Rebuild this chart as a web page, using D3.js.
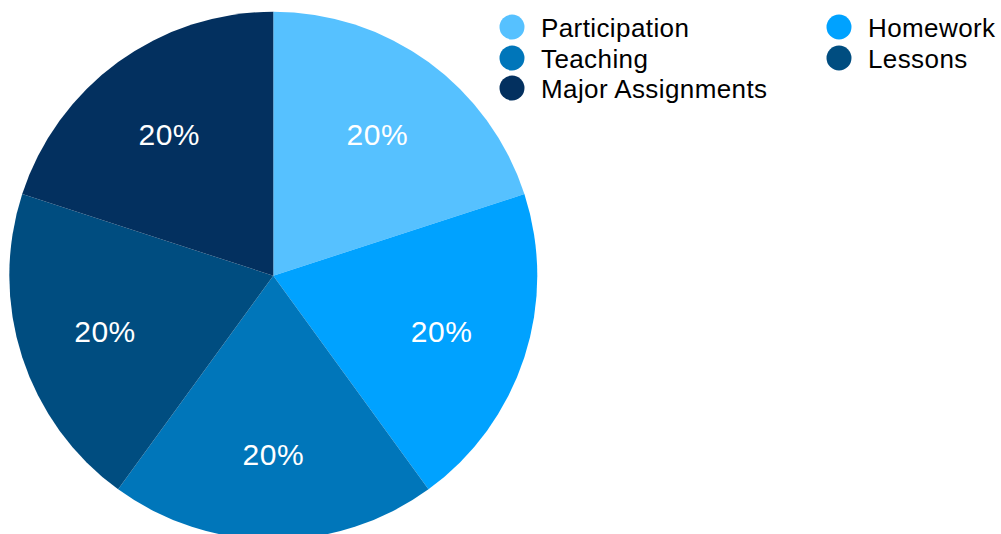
<!DOCTYPE html>
<html><head><meta charset="utf-8">
<script src="https://cdn.jsdelivr.net/npm/d3@7"></script>
<style>body{margin:0;background:#fff;}svg{display:block;}</style>
</head><body>
<svg id="chart" width="1001" height="534"></svg>
<script>
const categories = ["Participation","Homework","Teaching","Lessons","Major Assignments"];
const values = [20,20,20,20,20];
const colors = ["#56c1ff","#00a2ff","#0076ba","#004d80","#03305f"];
const legendOrder = ["Participation","Homework","Teaching","Lessons","Major Assignments"];

const svg = d3.select("#chart");
const cx = 273.3, cy = 275.7, r = 264;
const color = d3.scaleOrdinal().domain(categories).range(colors);
const data = categories.map((c,i)=>({cat:c,val:values[i]}));
const pie = d3.pie().value(d=>d.val).sort(null);
const arc = d3.arc().innerRadius(0).outerRadius(r);
const labelArc = d3.arc().innerRadius(177).outerRadius(177);
const total = d3.sum(values);
const g = svg.append("g").attr("transform",`translate(${cx},${cy})`);
const arcs = pie(data);
g.selectAll("path").data(arcs).join("path").attr("d",arc).attr("fill",d=>color(d.data.cat));
g.selectAll("text").data(arcs).join("text")
  .attr("transform",d=>{const p=labelArc.centroid(d);return `translate(${p[0]},${p[1]+1.5})`;})
  .attr("text-anchor","middle").attr("dominant-baseline","central")
  .attr("fill","#fff").attr("font-family","Liberation Sans, Arial, sans-serif").attr("font-size",30)
  .attr("letter-spacing",0.5)
  .text(d=>Math.round(d.data.val/total*100)+"%");

const lg = svg.append("g");
const colX = [512, 839], rowY = [27, 58, 88];
legendOrder.forEach((c,i)=>{
  const col = i%2, row = Math.floor(i/2);
  const item = lg.append("g").attr("transform",`translate(${colX[col]},${rowY[row]})`);
  item.append("circle").attr("r",12.5).attr("fill",color(c));
  item.append("text").attr("x",29).attr("y",1).attr("dominant-baseline","central").attr("font-family","Liberation Sans, Arial, sans-serif")
    .attr("font-size",26).attr("letter-spacing",0.4).attr("fill","#000").text(c);
});
</script>
</body></html>
